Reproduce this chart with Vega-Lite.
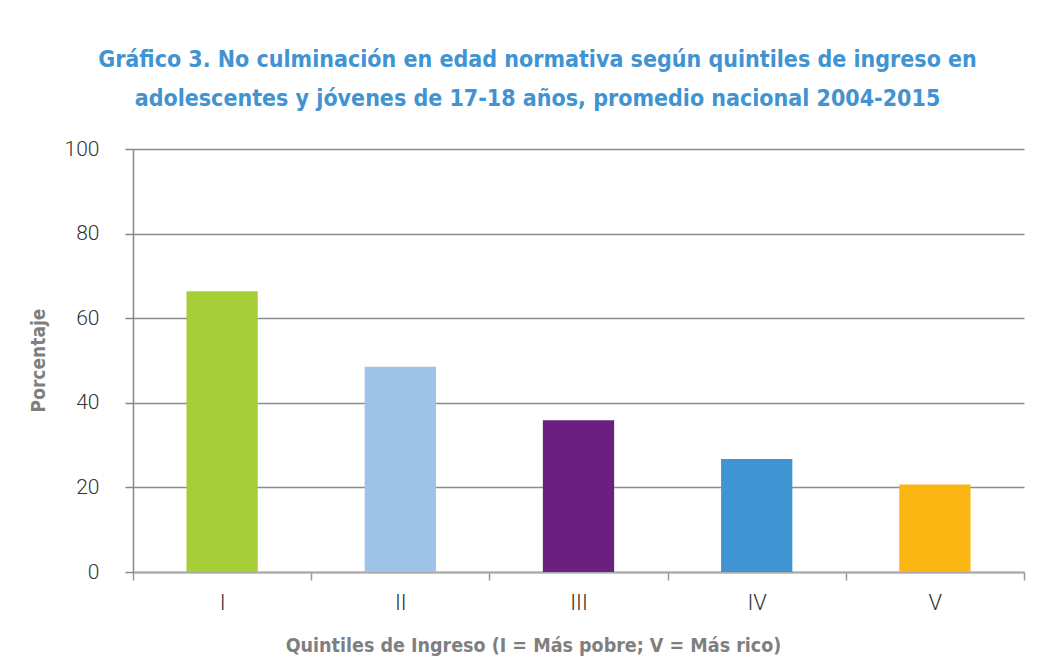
{
  "$schema": "https://vega.github.io/schema/vega-lite/v6.json",
  "width": 891,
  "height": 423,
  "autosize": "none",
  "padding": {"left": 133, "top": 149, "right": 31, "bottom": 98},
  "background": "white",
  "title": {
    "text": ["Gráfico 3. No culminación en edad normativa según quintiles de ingreso en", "adolescentes y jóvenes de 17-18 años, promedio nacional 2004-2015"],
    "font": "DejaVu Sans Condensed, Roboto",
    "fontSize": 23,
    "fontWeight": "bold",
    "color": "#4193d1",
    "lineHeight": 39,
    "anchor": "middle",
    "frame": "group",
    "dx": -41,
    "offset": 27
  },
  "data": {
    "values": [
      {"quintil": "I", "pct": 66.4},
      {"quintil": "II", "pct": 48.5},
      {"quintil": "III", "pct": 35.9},
      {"quintil": "IV", "pct": 26.7},
      {"quintil": "V", "pct": 20.7}
    ]
  },
  "mark": {"type": "bar", "width": {"band": 0.4}},
  "encoding": {
    "x": {
      "field": "quintil",
      "type": "nominal",
      "sort": null,
      "scale": {"paddingInner": 0, "paddingOuter": 0},
      "axis": {
        "title": "Quintiles de Ingreso (I = Más pobre; V = Más rico)",
        "titleFont": "DejaVu Sans Condensed, Roboto",
        "titleFontSize": 19.5,
        "titleFontWeight": "bold",
        "titleColor": "#7f7f7f",
        "titleX": 400,
        "titleY": 73,
        "titleBaseline": "middle",
        "titleAlign": "center",
        "labelAngle": 0,
        "labelFont": "Roboto",
        "labelFontWeight": 300,
        "labelFontSize": 22,
        "labelColor": "#333333",
        "labelPadding": 12,
        "tickBand": "extent",
        "tickSize": 8,
        "tickColor": "#999999",
        "tickWidth": 1.5,
        "domainColor": "#aaaaaa",
        "domainWidth": 2,
        "grid": false
      }
    },
    "y": {
      "field": "pct",
      "type": "quantitative",
      "scale": {"domain": [0, 100]},
      "axis": {
        "title": "Porcentaje",
        "titleFont": "DejaVu Sans Condensed, Roboto",
        "titleFontSize": 19,
        "titleFontWeight": "bold",
        "titleColor": "#7f7f7f",
        "titleX": -95,
        "titleY": 211,
        "titleAngle": -90,
        "titleAlign": "center",
        "titleBaseline": "middle",
        "values": [0, 20, 40, 60, 80, 100],
        "labelFont": "Roboto",
        "labelFontWeight": 300,
        "labelFontSize": 21,
        "labelColor": "#333333",
        "labelPadding": 26,
        "tickSize": 8,
        "tickColor": "#888888",
        "tickWidth": 1.5,
        "domain": true,
        "domainColor": "#888888",
        "domainWidth": 1.5,
        "grid": true,
        "gridColor": "#8c8c8c",
        "gridWidth": 1.5
      }
    },
    "color": {
      "field": "quintil",
      "type": "nominal",
      "sort": null,
      "scale": {"domain": ["I", "II", "III", "IV", "V"], "range": ["#a6ce39", "#9dc3e6", "#6b1f7f", "#4194d2", "#fbb614"]},
      "legend": null
    }
  },
  "config": {"view": {"stroke": null}}
}
